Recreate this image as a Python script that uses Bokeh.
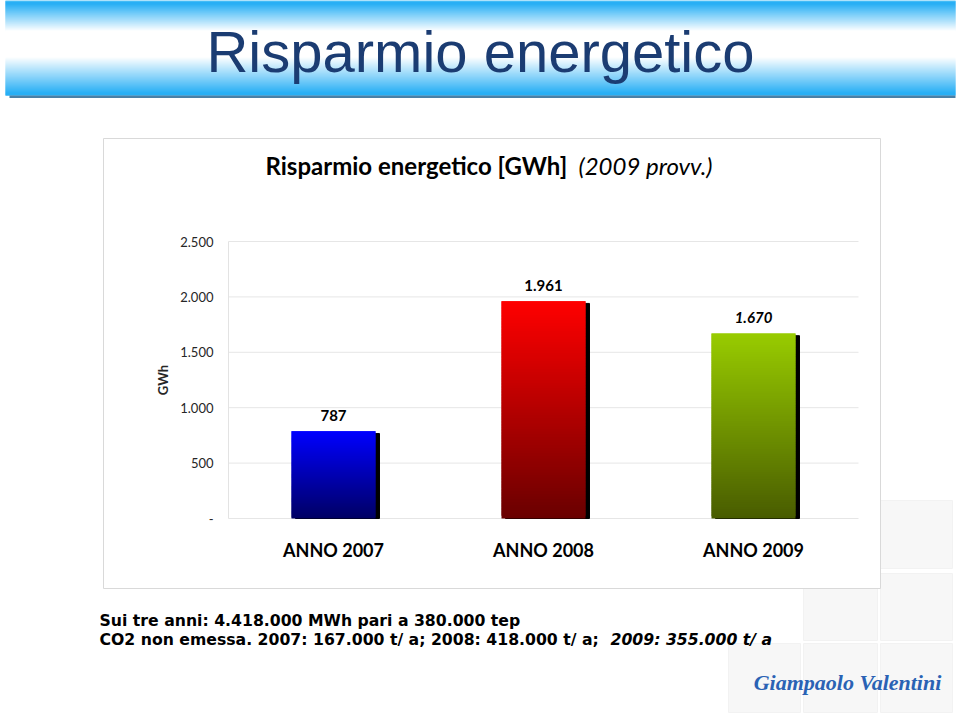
from bokeh.plotting import figure
from bokeh.models import Range1d, FixedTicker, LinearAxis, ColumnDataSource
from bokeh.core.properties import value
from bokeh.embed import file_html
from bokeh.resources import INLINE

# ---------------- data ----------------
years = ["ANNO 2007", "ANNO 2008", "ANNO 2009"]
savings_gwh = [787, 1961, 1670]
value_labels = ["787", "1.961", "1.670"]
value_label_styles = ["bold", "bold", "bold italic"]
y_ticks = [0, 500, 1000, 1500, 2000, 2500]
y_tick_labels = ["-", "500", "1.000", "1.500", "2.000", "2.500"]

slide_title = "Risparmio energetico"
chart_title_main = "Risparmio energetico [GWh]"
chart_title_note = "(2009 provv.)"
y_axis_title = "GWh"
note_line1 = "Sui tre anni: 4.418.000 MWh pari a 380.000 tep"
note_line2_main = "CO2 non emessa. 2007: 167.000 t/ a; 2008: 418.000 t/ a;"
note_line2_prov = "2009: 355.000 t/ a"
author = "Giampaolo Valentini"

# ---------------- layout / style ----------------
bar_top_rgb = [(0, 0, 255), (255, 0, 0), (153, 204, 0)]
bar_bottom_rgb = [(0, 0, 100), (105, 0, 0), (72, 92, 0)]

W, H = 960, 716
PLOT_L, PLOT_R, PLOT_T, PLOT_B = 228, 858, 241, 518   # page pixels of the chart's plot area
Y_MAX = y_ticks[-1]
N_CAT = len(years)
BASE = 0.33   # shift from the wanted baseline to the text anchor, in em


def hexcol(c):
    return "#%02x%02x%02x" % tuple(int(round(v)) for v in c)


# whole page as the frame (pixel coordinates, y downward) for the slide decoration
p = figure(width=W, height=H, x_range=Range1d(0, W), y_range=Range1d(H, 0),
           x_axis_type=None, y_axis_type=None, min_border=0,
           output_backend="svg", toolbar_location=None)
p.outline_line_color = None
p.background_fill_color = "white"
p.border_fill_color = "white"

# chart scales mapped onto the plot area
px_per_cat = (PLOT_R - PLOT_L) / N_CAT
val_per_px = Y_MAX / (PLOT_B - PLOT_T)
p.extra_x_ranges = {"bars": Range1d(-PLOT_L / px_per_cat, N_CAT + (W - PLOT_R) / px_per_cat)}
p.extra_y_ranges = {"val": Range1d(-(H - PLOT_B) * val_per_px, Y_MAX + PLOT_T * val_per_px)}


def page_text(X, Y, text, font, size, style="normal", color="black", align="left"):
    p.text(x=[X], y=[Y - BASE * size], text=[text], text_font=value(font),
           text_font_style=style, text_font_size=f"{size}px", text_color=color,
           text_align=align, text_baseline="alphabetic")


# ---------------- slide decoration ----------------
# banner with vertical gradient
blue = (40, 175, 245)
b_left, b_right, b_top, b_bot, b_col = [], [], [], [], []
for Y in range(0, 95):
    if Y < 43:
        f = min(1.0, max(0.0, (30 - Y) / 27.0))
    else:
        f = min(1.0, max(0.0, (Y - 56) / 36.0))
    b_left.append(5); b_right.append(955); b_top.append(Y); b_bot.append(min(Y + 2, 95))
    b_col.append(hexcol([255 * (1 - f) + blue[j] * f for j in range(3)]))
p.quad(left=b_left, right=b_right, top=b_top, bottom=b_bot, fill_color=b_col, line_color=None)
p.quad(left=[5], right=[955], top=[0], bottom=[1], fill_color="#5CC8F8", line_color=None)
p.quad(left=[9], right=[955], top=[95], bottom=[97.5], fill_color="#4A80A6", line_color=None)

page_text(480, 70, slide_title, "Liberation Sans", 58, color="#1B3C72", align="center")

# logo tiles
tiles = [(880, 500, 952, 568), (803, 573, 877, 640), (880, 573, 952, 640),
         (728, 643, 800, 712), (803, 643, 877, 712), (880, 643, 952, 712)]
p.quad(left=[t[0] for t in tiles], right=[t[2] for t in tiles], top=[t[1] for t in tiles],
       bottom=[t[3] for t in tiles], fill_color="#F7F7F7", line_color="#F2F2F2", line_width=1)

# chart area border
p.quad(left=[103], right=[880], top=[138], bottom=[588], fill_color="white", line_color="#D9D9D9", line_width=1)

# chart title
page_text(265, 173, chart_title_main, "Lato", 24, style="bold")
page_text(578, 173, chart_title_note, "Lato", 24, style="italic")

# notes
page_text(99, 625, note_line1, "DejaVu Sans", 15.7, style="bold")
page_text(99, 644, note_line2_main, "DejaVu Sans", 15.7, style="bold")
page_text(610, 644, note_line2_prov, "DejaVu Sans", 15.7, style="bold italic")

# author signature
page_text(847, 689, author, "Liberation Serif", 22, style="bold italic", color="#2A62B4", align="center")

# ---------------- the chart ----------------
R = dict(x_range_name="bars", y_range_name="val")
bar_x = [i + 0.5 for i in range(N_CAT)]

# horizontal grid lines
p.segment(x0=[0] * len(y_ticks), x1=[N_CAT] * len(y_ticks), y0=y_ticks, y1=y_ticks,
          line_color="#E6E6E6", line_width=1, **R)

# shadows
shadow_src = ColumnDataSource(dict(x=[x + 0.019 for x in bar_x], top=[v - 20 for v in savings_gwh]))
p.vbar(x="x", top="top", width=0.4, color="black", source=shadow_src, **R)

# gradient bars (overlapping thin slices of each bar)
n = 80
xs, bots, tops, cols = [], [], [], []
for bx, v, ct, cb in zip(bar_x, savings_gwh, bar_top_rgb, bar_bottom_rgb):
    for k in range(n):
        f = (k + 0.5) / n
        xs.append(bx)
        bots.append(v * k / n)
        tops.append(v * min(k + 2, n) / n)
        cols.append(hexcol([cb[j] + (ct[j] - cb[j]) * f for j in range(3)]))
bar_src = ColumnDataSource(dict(x=xs, bottom=bots, top=tops, color=cols))
p.vbar(x="x", bottom="bottom", top="top", width=0.4, fill_color="color", line_color=None,
       source=bar_src, **R)

# value labels
lab_src = ColumnDataSource(dict(x=bar_x, y=savings_gwh, text=value_labels, style=value_label_styles))
p.text(x="x", y="y", text="text", source=lab_src, text_font=value("Lato"),
       text_font_size="15px", text_font_style="style", text_align="center",
       text_baseline="alphabetic", y_offset=-16, text_color="black", **R)

# axes
yax = LinearAxis(fixed_location=0, bounds=(0, Y_MAX), ticker=FixedTicker(ticks=y_ticks),
                 major_label_overrides={t: l for t, l in zip(y_ticks, y_tick_labels)}, **R)
yax.axis_line_color = "#E3E3E3"
yax.major_tick_line_color = None
yax.minor_tick_line_color = None
yax.major_tick_out = 0
yax.major_tick_in = 0
yax.major_label_standoff = 15
yax.major_label_text_font = "Lato"
yax.major_label_text_font_size = "13px"
yax.major_label_text_color = "#262626"
yax.axis_label = y_axis_title
yax.axis_label_text_font = "Lato"
yax.axis_label_text_font_style = "bold"
yax.axis_label_text_font_size = "13px"
yax.axis_label_text_color = "#262626"
yax.axis_label_standoff = 6
p.add_layout(yax, "left")

xax = LinearAxis(fixed_location=0, bounds=(0, N_CAT), ticker=FixedTicker(ticks=bar_x),
                 major_label_overrides={x: y for x, y in zip(bar_x, years)}, **R)
xax.axis_line_color = None
xax.major_tick_line_color = None
xax.minor_tick_line_color = None
xax.major_tick_out = 0
xax.major_tick_in = 0
xax.major_label_standoff = 20
xax.major_label_text_font = "Lato"
xax.major_label_text_font_style = "bold"
xax.major_label_text_font_size = "18px"
xax.major_label_text_color = "black"
p.add_layout(xax, "below")

open("out.html", "w").write(file_html(p, INLINE))
